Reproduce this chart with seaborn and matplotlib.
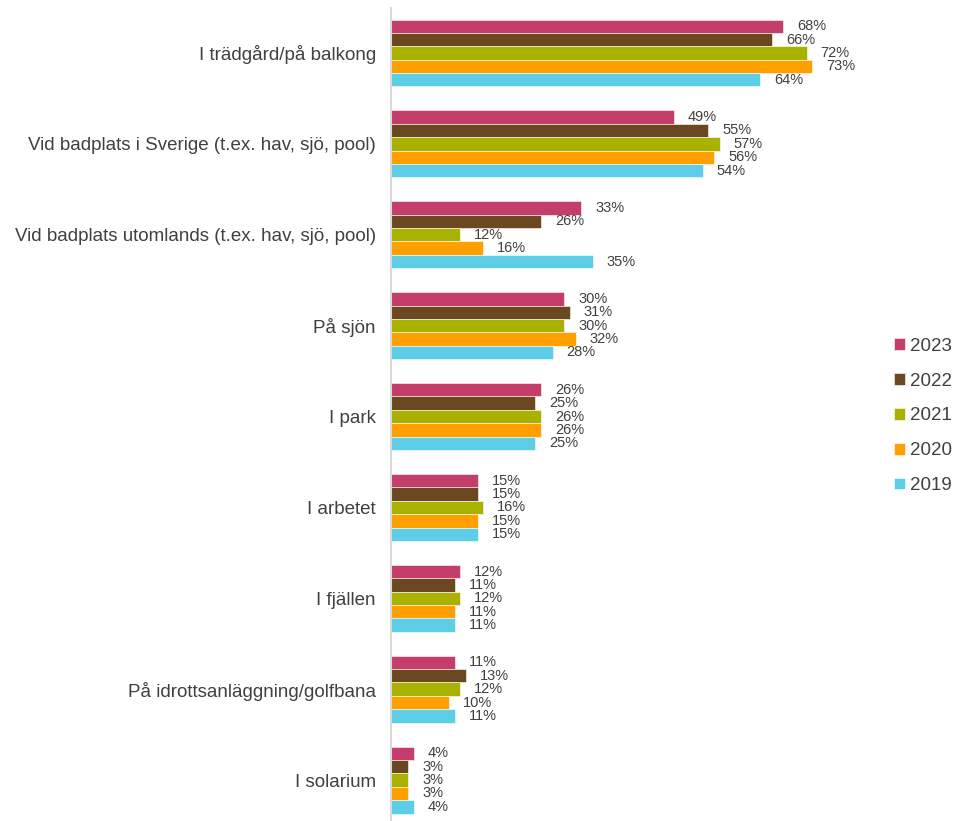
import matplotlib
matplotlib.use("Agg")
import matplotlib.pyplot as plt
import seaborn as sns
import pandas as pd

# Where people sunbathe, share of respondents per year
places = [
    "I trädgård/på balkong",
    "Vid badplats i Sverige (t.ex. hav, sjö, pool)",
    "Vid badplats utomlands (t.ex. hav, sjö, pool)",
    "På sjön",
    "I park",
    "I arbetet",
    "I fjällen",
    "På idrottsanläggning/golfbana",
    "I solarium",
]
years = ["2023", "2022", "2021", "2020", "2019"]
v2023 = [68, 49, 33, 30, 26, 15, 12, 11, 4]
v2022 = [66, 55, 26, 31, 25, 15, 11, 13, 3]
v2021 = [72, 57, 12, 30, 26, 16, 12, 12, 3]
v2020 = [73, 56, 16, 32, 26, 15, 11, 10, 3]
v2019 = [64, 54, 35, 28, 25, 15, 11, 11, 4]
colors = ["#C43D6B", "#6B4820", "#A9B200", "#FFA000", "#5DCDE8"]

series = dict(zip(years, [v2023, v2022, v2021, v2020, v2019]))
rows = []
for yr, vals in series.items():
    for p, v in zip(places, vals):
        rows.append({"Plats": p, "År": yr, "Andel": v})
df = pd.DataFrame(rows)

sns.set_theme(style="white")
plt.rcParams["font.family"] = ["Liberation Sans", "DejaVu Sans"]
text_color = "#404040"

fig = plt.figure(figsize=(9.54, 8.21), dpi=100)
ax = fig.add_axes([0.4099, -0.0055, 0.4839, 0.9963])

sns.barplot(
    data=df, y="Plats", x="Andel", hue="År",
    order=places, hue_order=years, palette=colors, saturation=1,
    orient="h", width=0.737, gap=0, dodge=True,
    edgecolor="white", linewidth=0.4, errorbar=None,
    legend=True, ax=ax,
)

for cont in ax.containers:
    ax.bar_label(cont, labels=[f"{int(round(b.get_width()))}%" for b in cont],
                 padding=10, fontsize=10.5, color=text_color)

ax.set_xlim(0, 80)
ax.set_ylim(len(places) - 0.5, -0.5)
ax.set_xlabel("")
ax.set_ylabel("")
ax.set_xticks([])
ax.tick_params(axis="y", length=0, pad=11, labelsize=13.5, labelcolor=text_color)
for side in ["top", "right", "bottom"]:
    ax.spines[side].set_visible(False)
ax.spines["left"].set_color("#D9D9D9")
ax.spines["left"].set_linewidth(1.5)

handles, labels = ax.get_legend_handles_labels()
ax.legend_.remove()
fig.legend(
    handles, labels, loc="center left",
    bbox_to_anchor=(894 / 954, 1 - 416 / 821),
    frameon=False, fontsize=13.5, labelcolor=text_color,
    handlelength=0.6, handleheight=0.6, handletextpad=0.25,
    labelspacing=0.95, borderpad=0, borderaxespad=0,
)

fig.savefig("out.png", dpi=100)
